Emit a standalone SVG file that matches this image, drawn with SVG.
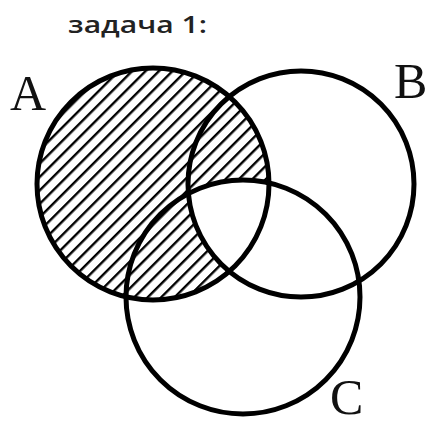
<svg xmlns="http://www.w3.org/2000/svg" width="432" height="425" viewBox="0 0 432 425">
  <style>
    .circle { fill: none; stroke: #000; stroke-width: 5; }
    .label { font-family: "Liberation Serif", "Times New Roman", serif; font-size: 50px; fill: #111; }
    .title { font-family: "Open Sans", "Noto Sans", sans-serif; font-size: 24px; font-weight: 600; fill: #222; }
  </style>
  <defs>
    <pattern id="hatch" patternUnits="userSpaceOnUse" width="9.5" height="9.5" patternTransform="rotate(45)">
      <line x1="1.2" y1="0" x2="1.2" y2="9.5" stroke="#000" stroke-width="2.4"/>
    </pattern>
    <clipPath id="clipB">
      <circle cx="301" cy="184" r="113"/>
    </clipPath>
    <mask id="notBC">
      <rect x="0" y="0" width="432" height="425" fill="#fff"/>
      <circle cx="243" cy="297" r="117" fill="#000" clip-path="url(#clipB)"/>
    </mask>
  </defs>

  <text class="title" x="68" y="33" textLength="139" lengthAdjust="spacingAndGlyphs">задача 1:</text>

  <g id="hatched-region">
    <circle cx="153" cy="184" r="116" fill="url(#hatch)" mask="url(#notBC)"/>
  </g>

  <g id="setA">
    <circle class="circle" cx="153" cy="184" r="116"/>
    <text class="label" x="10" y="110">A</text>
  </g>
  <g id="setB">
    <circle class="circle" cx="301" cy="184" r="113"/>
    <text class="label" x="394" y="98">B</text>
  </g>
  <g id="setC">
    <circle class="circle" cx="243" cy="297" r="117"/>
    <text class="label" x="330" y="414">C</text>
  </g>
  <g id="connectors"></g>
</svg>
